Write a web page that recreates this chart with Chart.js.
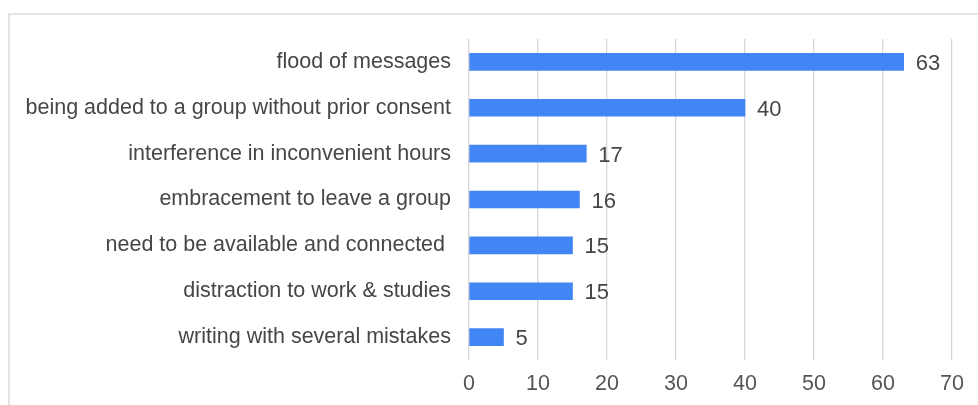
<!DOCTYPE html>
<html>
<head>
<meta charset="utf-8">
<script src="https://cdn.jsdelivr.net/npm/chart.js"></script>
<style>
  html, body { margin: 0; padding: 0; background: #fff; }
  #wrap { position: relative; width: 978px; height: 405px; overflow: hidden; }
  #frame {
    position: absolute; left: 8px; top: 13px; right: -4px; bottom: -4px;
    border-left: 2px solid #e4e4e4; border-top: 2px solid #e4e4e4;
  }
  #chart { position: absolute; left: 0; top: 0; }
</style>
</head>
<body>
<div id="wrap">
  <div id="frame"></div>
  <canvas id="chart" width="978" height="405"></canvas>
</div>
<script>
// Chart data
const categories = [
    'flood of messages',
    'being added to a group without prior consent',
    'interference in inconvenient hours',
    'embracement to leave a group',
    'need to be available and connected ',
    'distraction to work & studies',
    'writing with several mistakes'
];
const counts = [63, 40, 17, 16, 15, 15, 5];
const xTicks = [0, 10, 20, 30, 40, 50, 60, 70];

const barColor = '#4285f4';
const textColor = '#464646';
const gridColor = '#d6d6d6';

/**
 * Draw the value next to the end of each bar
 */
const valueLabels = {
    id: 'valueLabels',
    afterDatasetsDraw(chart) {
        const ctx = chart.ctx;
        const meta = chart.getDatasetMeta(0);
        ctx.save();
        ctx.font = '22px "Liberation Sans", Arial, sans-serif';
        ctx.fillStyle = textColor;
        ctx.textAlign = 'left';
        ctx.textBaseline = 'middle';
        meta.data.forEach(function(bar, i) {
            ctx.fillText(String(counts[i]), bar.x + 12, bar.y + 2);
        });
        ctx.restore();
    }
};

document.addEventListener('DOMContentLoaded', function() {
    Chart.defaults.font.family = '"Liberation Sans", Arial, sans-serif';
    Chart.defaults.font.size = 21.5;
    Chart.defaults.color = textColor;

    new Chart(document.getElementById('chart'), {
        type: 'bar',
        data: {
            labels: categories,
            datasets: [{
                data: counts,
                backgroundColor: barColor,
                borderWidth: 0,
                barThickness: 17
            }]
        },
        options: {
            indexAxis: 'y',
            responsive: false,
            animation: false,
            layout: {
                padding: { top: 39, right: 26, left: 0, bottom: 0 }
            },
            plugins: {
                legend: { display: false },
                tooltip: { enabled: false }
            },
            scales: {
                x: {
                    min: 0,
                    max: 70,
                    afterBuildTicks: function(scale) {
                        scale.ticks = xTicks.map(v => ({ value: v }));
                    },
                    afterFit: function(scale) {
                        scale.height = 45;
                    },
                    grid: {
                        color: gridColor,
                        lineWidth: 1.3,
                        drawTicks: false
                    },
                    border: { display: false },
                    ticks: { padding: 11, color: '#555555' }
                },
                y: {
                    afterFit: function(scale) {
                        scale.width = 469;
                    },
                    grid: { display: false, drawTicks: false },
                    border: { display: false },
                    ticks: { padding: 18, color: textColor }
                }
            }
        },
        plugins: [valueLabels]
    });
});
</script>
</body>
</html>
